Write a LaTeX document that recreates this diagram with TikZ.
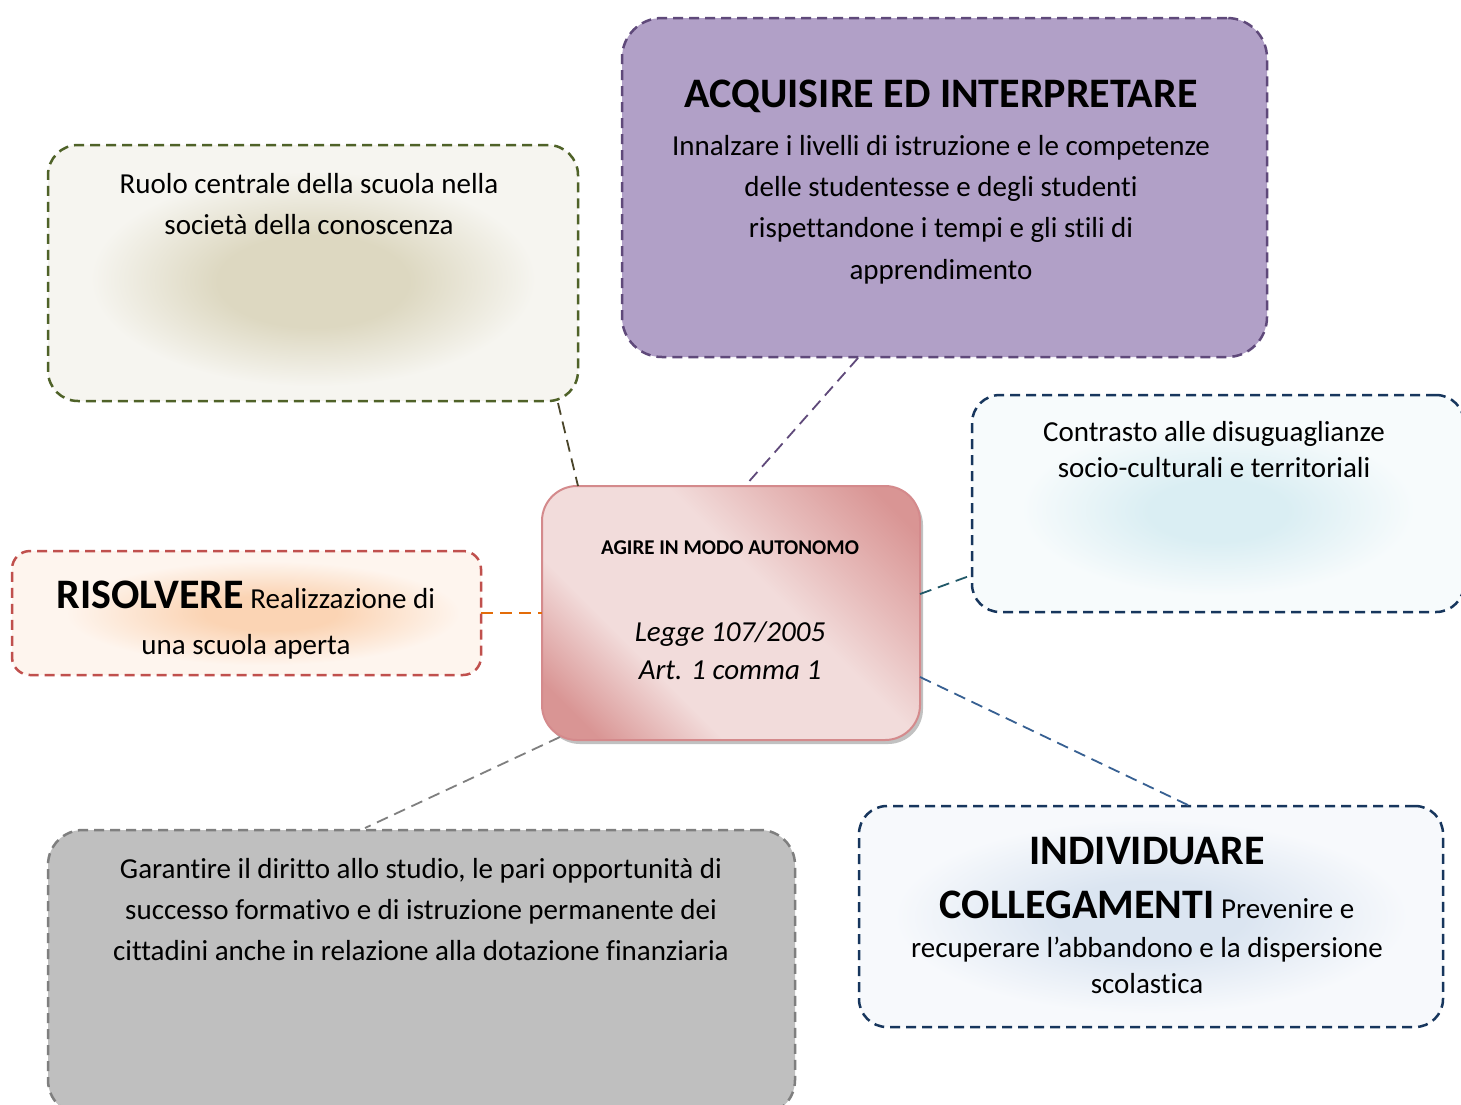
\documentclass[tikz,border=0pt]{standalone}
\usepackage{fontspec}
\setmainfont{Carlito}[Ligatures={NoCommon}]
\usetikzlibrary{calc,shadows}
\definecolor{olivebd}{HTML}{4F6228}
\definecolor{olivelk}{HTML}{4A452A}
\definecolor{oliveglow}{HTML}{DDD8C1}
\definecolor{olivebase}{HTML}{F6F5F0}
\definecolor{purpbd}{HTML}{5F497A}
\definecolor{purpfill}{HTML}{B1A0C7}
\definecolor{bluebd}{HTML}{17365D}
\definecolor{tealk}{HTML}{215868}
\definecolor{cyanglow}{HTML}{DAEEF3}
\definecolor{cyanbase}{HTML}{F7FBFC}
\definecolor{redbd}{HTML}{C0504D}
\definecolor{orangelk}{HTML}{E36C09}
\definecolor{orglow}{HTML}{FBD4B4}
\definecolor{orbase}{HTML}{FEF5EE}
\definecolor{pkdark}{HTML}{D99594}
\definecolor{pklight}{HTML}{F2DCDB}
\definecolor{pkmid}{HTML}{E6B9B8}
\definecolor{pkborder}{HTML}{D48A8C}
\definecolor{grayfill}{HTML}{BFBFBF}
\definecolor{graybd}{HTML}{7F7F7F}
\definecolor{navylk}{HTML}{376092}
\definecolor{bbglow}{HTML}{DBE5F1}
\definecolor{bbbase}{HTML}{F7F9FC}
\pgfdeclareradialshading{glowolive}{\pgfpoint{0bp}{-2bp}}{color(0bp)=(oliveglow); color(9bp)=(oliveglow); color(21bp)=(olivebase); color(50bp)=(olivebase)}
\pgfdeclareradialshading{glowcyan}{\pgfpoint{0bp}{-2bp}}{color(0bp)=(cyanglow); color(7bp)=(cyanglow); color(20bp)=(cyanbase); color(50bp)=(cyanbase)}
\pgfdeclareradialshading{glowor}{\pgfpoint{3bp}{0bp}}{color(0bp)=(orglow); color(7bp)=(orglow); color(21bp)=(orbase); color(50bp)=(orbase)}
\pgfdeclareradialshading{glowbb}{\pgfpoint{0bp}{0bp}}{color(0bp)=(bbglow); color(8bp)=(bbglow); color(22bp)=(bbbase); color(50bp)=(bbbase)}
\pgfdeclarehorizontalshading{pinkgrad}{100bp}{color(0bp)=(pkdark); color(21bp)=(pkdark); color(35bp)=(pklight); color(57bp)=(pklight); color(68bp)=(pkmid); color(80bp)=(pkdark); color(100bp)=(pkdark)}
\tikzset{
  boxbase/.style={rectangle, rounded corners=#1, inner sep=0pt, outer sep=0pt, line width=2.5pt, dash pattern=on 10pt off 6pt},
  link/.style={line width=1.8pt, dash pattern=on 12pt off 7pt},
  txt/.style={anchor=base, inner sep=0pt, outer sep=0pt, font=\fontsize{29}{35}\selectfont},
  bigtxt/.style={txt, font=\fontsize{42}{50}\selectfont\bfseries},
  hand/.style={txt, font=\fontsize{29}{35}\selectfont\itshape}
}
\begin{document}
\begin{tikzpicture}[x=1pt,y=-1pt]
\useasboundingbox (0,0) rectangle (1461,1104);
\fill[white] (0,0) rectangle (1461,1104);
% boxes
\node[boxbase=30pt, draw=olivebd, shade, shading=glowolive, minimum width=530pt, minimum height=256pt] (olive) at (313,273) {};
\node[boxbase=40pt, draw=purpbd, fill=purpfill, minimum width=645pt, minimum height=339pt] (purple) at (944.5,187.5) {};
\node[boxbase=28pt, draw=bluebd, shade, shading=glowcyan, minimum width=492pt, minimum height=217pt] (right) at (1218,503.5) {};
\node[boxbase=18pt, draw=redbd, shade, shading=glowor, minimum width=469pt, minimum height=124pt] (left) at (246.5,613) {};
\node[boxbase=35pt, draw=graybd, fill=grayfill, minimum width=747pt, minimum height=285pt] (gray) at (421.5,972.5) {};
\node[boxbase=28pt, draw=bluebd, shade, shading=glowbb, minimum width=584pt, minimum height=221pt] (br) at (1151,916.5) {};
\node[rectangle, rounded corners=35pt, inner sep=0pt, outer sep=0pt, draw=pkborder, line width=2pt, shade, shading=pinkgrad, shading angle=45,
      drop shadow={shadow xshift=3pt, shadow yshift=-4pt, opacity=0.4, fill=black!60},
      minimum width=378pt, minimum height=254pt] (center) at (731,613) {};
% connectors
\draw[link, draw=olivelk] ($(olive.south east)+(-20,2)$) -- ($(center.north west)+(36,0)$);
\draw[link, draw=purpbd] ($(purple.south west)+(236,1)$) -- ($(center.north west)+(203,0)$);
\draw[link, draw=tealk] ($(center.north east)+(0,108)$) -- ($(right.south west)+(0,-37)$);
\draw[link, draw=orangelk] (left.east) -- (left.east -| center.west);
\draw[link, draw=navylk] ($(center.north east)+(0,191)$) -- ($(br.north west)+(331,0)$);
\draw[link, draw=graybd] ($(center.south west)+(18,-3)$) -- ($(gray.north west)+(317,-2)$);
% texts
\node[txt] (t1a) at (309,193) {Ruolo centrale della scuola nella};
\node[txt] (t1b) at (309,234) {società della conoscenza};
\node[bigtxt] (t2a) at (941,107) {ACQUISIRE ED INTERPRETARE};
\node[txt] (t2b) at (941,155) {Innalzare i livelli di istruzione e le competenze};
\node[txt] (t2c) at (941,196) {delle studentesse e degli studenti};
\node[txt] (t2d) at (941,237) {rispettandone i tempi e gli stili di};
\node[txt] (t2e) at (941,279) {apprendimento};
\node[txt] (t3a) at (1214,441) {Contrasto alle disuguaglianze};
\node[txt] (t3b) at (1214,477) {socio-culturali e territoriali};
\node[txt] (t4a) at (246,608) {{\fontsize{42}{50}\selectfont\bfseries RISOLVERE} Realizzazione di};
\node[txt] (t4b) at (246,654) {una scuola aperta};
\node[txt, font=\fontsize{21}{25}\selectfont\bfseries] (t5a) at (730,554) {AGIRE IN MODO AUTONOMO};
\node[hand] (t5b) at (730,641) {Legge 107/2005};
\node[hand] (t5c) at (730,679) {Art. 1 comma 1};
\node[txt] (t6a) at (421,878) {Garantire il diritto allo studio, le pari opportunità di};
\node[txt] (t6b) at (421,919) {successo formativo e di istruzione permanente dei};
\node[txt] (t6c) at (421,960) {cittadini anche in relazione alla dotazione finanziaria};
\node[bigtxt] (t7a) at (1147,864) {INDIVIDUARE};
\node[txt] (t7b) at (1147,918) {{\fontsize{42}{50}\selectfont\bfseries COLLEGAMENTI} Prevenire e};
\node[txt] (t7c) at (1147,957) {recuperare l’abbandono e la dispersione};
\node[txt] (t7d) at (1147,993) {scolastica};
\end{tikzpicture}
\end{document}
